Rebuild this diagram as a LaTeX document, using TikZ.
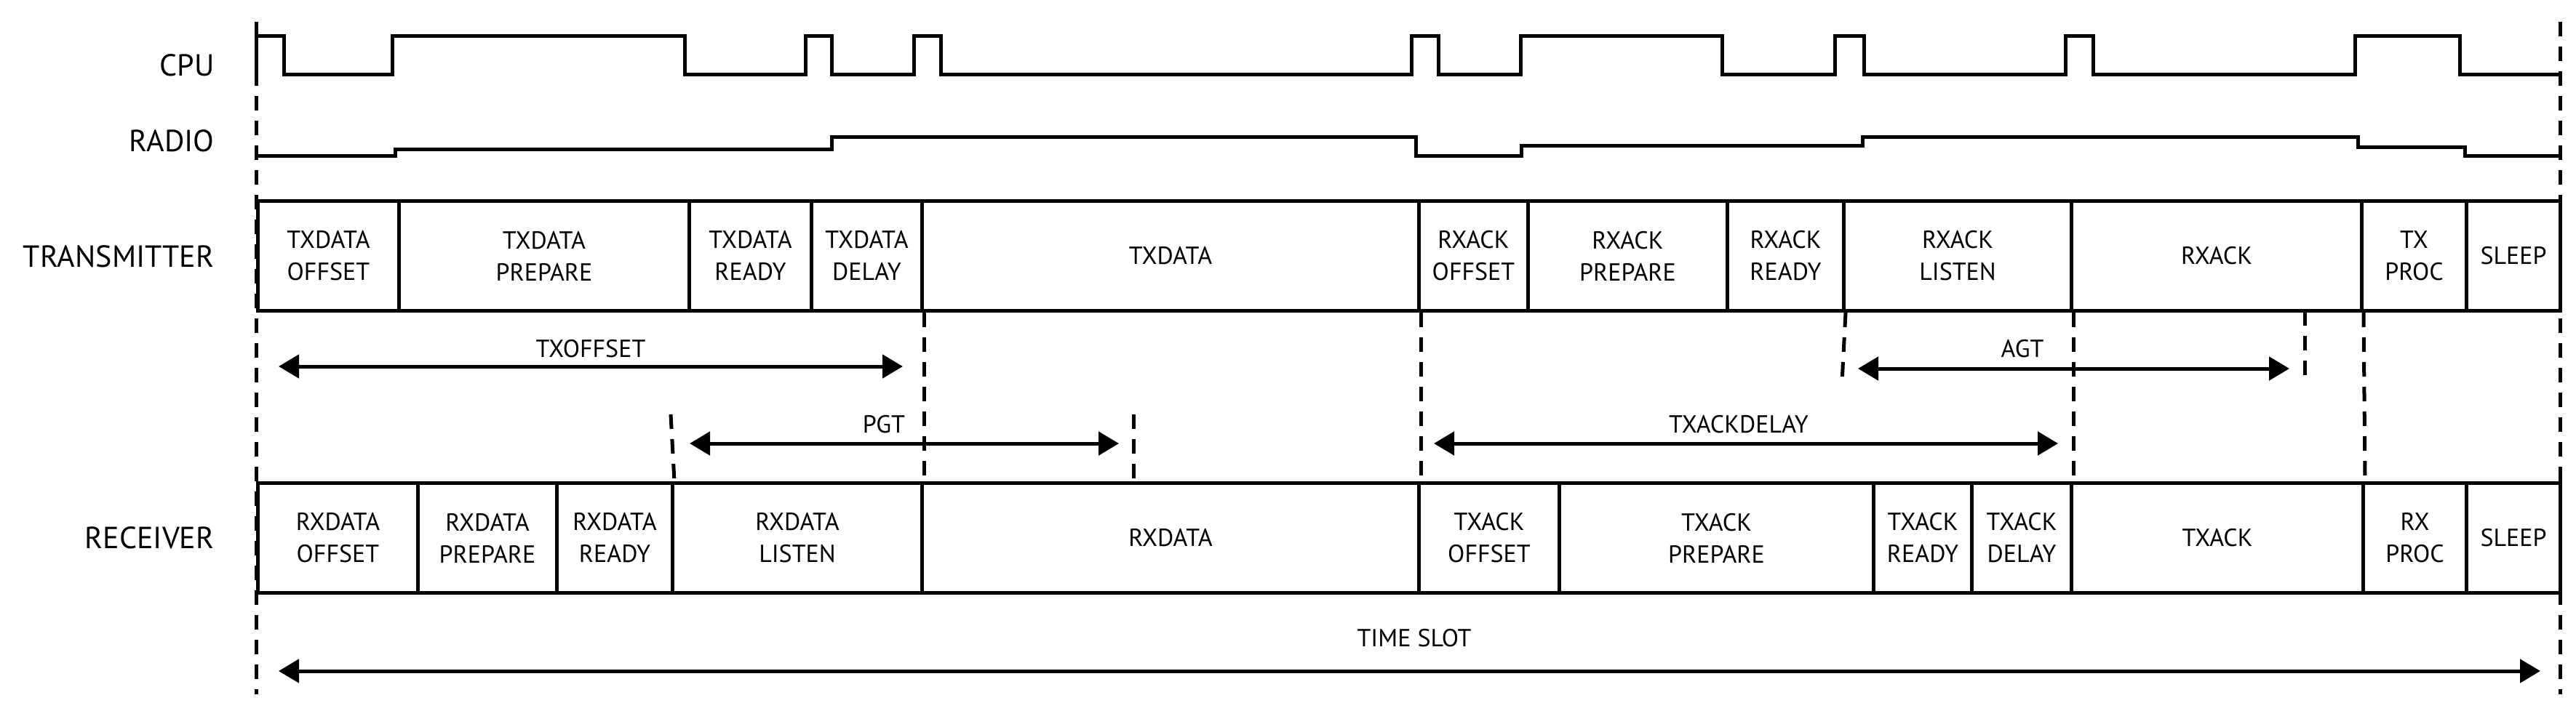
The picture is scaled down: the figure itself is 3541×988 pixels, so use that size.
\documentclass[tikz,border=0pt]{standalone}
\usepackage{fontspec}
\setmainfont{PT Sans}
\usetikzlibrary{arrows.meta}
\begin{document}
\begin{tikzpicture}[x=1pt,y=-1pt,
  sig/.style={line width=5pt,line join=miter},
  seg/.style={draw,line width=5pt,minimum height=151pt,inner sep=0pt,anchor=west,align=center,font=\fontsize{34}{44}\selectfont},
  vd/.style={line width=5pt,dash pattern=on 20pt off 14pt},
  dim/.style={line width=5pt,{Triangle[length=28pt,width=32pt]}-{Triangle[length=28pt,width=32pt]}},
  lbl/.style={font=\fontsize{34}{40}\selectfont},
  side/.style={anchor=east,font=\fontsize{42}{48}\selectfont}]
\useasboundingbox (0,0) rectangle (3541,988);
% signal labels
\node[side] (lcpu) at (298,90) {CPU};
\node[side] (lradio) at (298,194) {RADIO};
\node[side] (ltx) at (298,353) {TRANSMITTER};
\node[side] (lrx) at (298,740) {RECEIVER};
% outer dashed lines
\coordinate (L1) at (352,30); \coordinate (L2) at (352,955);
\coordinate (R1) at (3519,30); \coordinate (R2) at (3519,955);
\draw[vd] (L1) -- (L2);
\draw[vd] (R1) -- (R2);
% CPU
\draw[sig] (352,102)--(352,49)--(390,49)--(390,102)--(539,102)--(539,49)--(941,49)--(941,102)--(1107,102)--(1107,49)--(1143,49)--(1143,102)--(1256,102)--(1256,49)--(1293,49)--(1293,102)--(1940,102)--(1940,49)--(1977,49)--(1977,102)--(2090,102)--(2090,49)--(2367,49)--(2367,102)--(2522,102)--(2522,49)--(2562,49)--(2562,102)--(2839,102)--(2839,49)--(2877,49)--(2877,102)--(3237,102)--(3237,49)--(3381,49)--(3381,102)--(3519,102);
% RADIO
\draw[sig] (352,214)--(543,214)--(543,205)--(1143,205)--(1143,188)--(1946,188)--(1946,214)--(2091,214)--(2091,200)--(2560,200)--(2560,188)--(3241,188)--(3241,202)--(3388,202)--(3388,214)--(3519,214);
% transmitter
\foreach \a/\b/\t [count=\i] in {352/546/{TXDATA\\OFFSET},546/945/{TXDATA\\PREPARE},945/1113/{TXDATA\\READY},1113/1265/{TXDATA\\DELAY},1265/1948/{TXDATA},1948/2098/{RXACK\\OFFSET},2098/2372/{RXACK\\PREPARE},2372/2532/{RXACK\\READY},2532/2845/{RXACK\\LISTEN},2845/3244/{RXACK},3244/3388/{TX\\PROC},3388/3517/{SLEEP}}{
  \pgfmathsetmacro\w{\b-\a}
  \node[seg,minimum width=\w pt] (t\i) at (\a,352) {\t};
}
% receiver
\foreach \a/\b/\t [count=\i] in {352/572/{RXDATA\\OFFSET},572/763/{RXDATA\\PREPARE},763/922/{RXDATA\\READY},922/1265/{RXDATA\\LISTEN},1265/1948/{RXDATA},1948/2141/{TXACK\\OFFSET},2141/2573/{TXACK\\PREPARE},2573/2708/{TXACK\\READY},2708/2845/{TXACK\\DELAY},2845/3246/{TXACK},3246/3388/{RX\\PROC},3388/3517/{SLEEP}}{
  \pgfmathsetmacro\w{\b-\a}
  \node[seg,minimum width=\w pt] (r\i) at (\a,740) {\t};
}
% inner dashed lines
\coordinate (d1) at (922,570); \coordinate (d2) at (1558,570);
\coordinate (d3) at (2532,526); \coordinate (d4) at (3168,428); \coordinate (d4b) at (3168,526);
\draw[vd] (t4.south east) -- (r4.north east);
\draw[vd] (d1) -- (r3.north east);
\draw[vd] (t5.south east) -- (r5.north east);
\draw[vd] (d2) -- (1558,666);
\draw[vd] (t8.south east) -- (d3);
\draw[vd] (t9.south east) -- (r9.north east);
\draw[vd] (d4) -- (d4b);
\draw[vd] (t10.south east) -- (r10.north east);
% dimension arrows
\coordinate (a1) at (383,504); \coordinate (a2) at (1241,504);
\draw[dim] (a1) -- (a2) node[lbl,midway,above=6pt] (txo) {TXOFFSET};
\coordinate (p1) at (948,610); \coordinate (p2) at (1538,610);
\draw[dim] (p1) -- (p2);
\node[lbl] (pgt) at (1215,584) {PGT};
\coordinate (k1) at (1971,610); \coordinate (k2) at (2829,610);
\draw[dim] (k1) -- (k2);
\node[lbl] (txad) at (2390,584) {TXACKDELAY};
\coordinate (g1) at (2554,507); \coordinate (g2) at (3147,507);
\draw[dim] (g1) -- (g2);
\node[lbl] (agt) at (2780,480) {AGT};
\coordinate (s1) at (383,923); \coordinate (s2) at (3492,923);
\draw[dim] (s1) -- (s2);
\node[lbl] (ts) at (1944,878) {TIME SLOT};
\end{tikzpicture}
\end{document}
